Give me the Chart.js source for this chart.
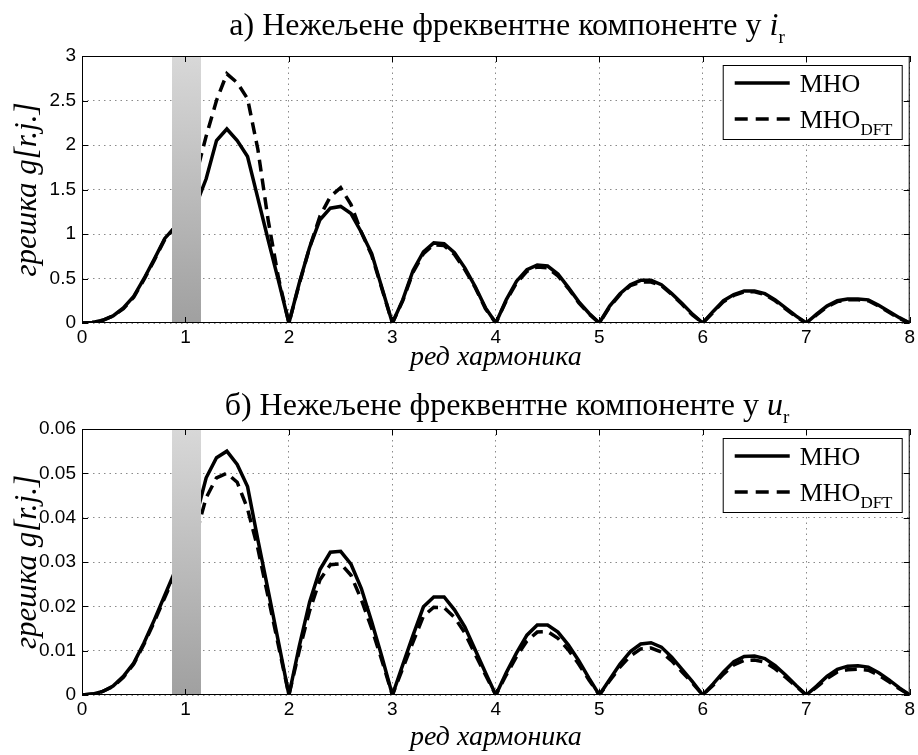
<!DOCTYPE html>
<html>
<head>
<meta charset="utf-8">
<script src="https://cdn.jsdelivr.net/npm/chart.js@4.4.0/dist/chart.umd.min.js"></script>
<style>
	body { margin: 0; background: #fff; }
	#wrap { position: relative; width: 918px; height: 755px; }
	canvas { position: absolute; left: 0; }
</style>
</head>
<body>
<div id="wrap">
	<canvas id="chartI" width="918" height="378" style="top:0; width:918px; height:378px"></canvas>
	<canvas id="chartU" width="918" height="377" style="top:378px; width:918px; height:377px"></canvas>
</div>
<script>

// harmonic order, step 0.1
var harmonicOrder = [
	0, 0.1, 0.2, 0.3, 0.4, 0.5, 0.6, 0.7, 0.8, 0.9,
	1, 1.1, 1.2, 1.3, 1.4, 1.5, 1.6, 1.7, 1.8, 1.9,
	2, 2.1, 2.2, 2.3, 2.4, 2.5, 2.6, 2.7, 2.8, 2.9,
	3, 3.1, 3.2, 3.3, 3.4, 3.5, 3.6, 3.7, 3.8, 3.9,
	4, 4.1, 4.2, 4.3, 4.4, 4.5, 4.6, 4.7, 4.8, 4.9,
	5, 5.1, 5.2, 5.3, 5.4, 5.5, 5.6, 5.7, 5.8, 5.9,
	6, 6.1, 6.2, 6.3, 6.4, 6.5, 6.6, 6.7, 6.8, 6.9,
	7, 7.1, 7.2, 7.3, 7.4, 7.5, 7.6, 7.7, 7.8, 7.9,
	8
];

// x axis labels
var harmonicTicks = [0, 1, 2, 3, 4, 5, 6, 7, 8];

// error in i_r
var mhoI = [
	0, 0.005, 0.03, 0.08, 0.17, 0.30, 0.50, 0.72, 0.95, 1.08,
	1.18, 1.32, 1.62, 2.05, 2.18, 2.05, 1.87, 1.40, 0.93, 0.47,
	0, 0.45, 0.85, 1.16, 1.29, 1.31, 1.23, 1.02, 0.78, 0.39,
	0, 0.26, 0.59, 0.80, 0.90, 0.89, 0.79, 0.62, 0.41, 0.17,
	0, 0.26, 0.47, 0.60, 0.65, 0.64, 0.55, 0.40, 0.24, 0.11,
	0, 0.19, 0.33, 0.43, 0.48, 0.48, 0.43, 0.33, 0.22, 0.10,
	0, 0.13, 0.25, 0.32, 0.36, 0.36, 0.33, 0.26, 0.17, 0.08,
	0, 0.10, 0.19, 0.25, 0.27, 0.27, 0.26, 0.20, 0.13, 0.06,
	0
];
var mhoDftI = [
	0, 0.005, 0.03, 0.08, 0.16, 0.29, 0.49, 0.71, 0.94, 1.08,
	1.30, 1.65, 2.10, 2.50, 2.80, 2.70, 2.52, 1.95, 1.15, 0.50,
	0, 0.44, 0.85, 1.20, 1.42, 1.52, 1.33, 1.02, 0.76, 0.38,
	0, 0.25, 0.57, 0.78, 0.88, 0.87, 0.77, 0.60, 0.40, 0.16,
	0, 0.25, 0.45, 0.58, 0.63, 0.62, 0.53, 0.39, 0.23, 0.10,
	0, 0.18, 0.32, 0.42, 0.46, 0.46, 0.42, 0.32, 0.21, 0.09,
	0, 0.12, 0.24, 0.31, 0.35, 0.35, 0.32, 0.25, 0.16, 0.07,
	0, 0.09, 0.18, 0.24, 0.26, 0.26, 0.25, 0.19, 0.12, 0.05,
	0
];

// error in u_r
var mhoU = [
	0, 0.0002, 0.0008, 0.002, 0.0042, 0.0072, 0.0118, 0.017, 0.0225, 0.028,
	0.034, 0.040, 0.049, 0.0535, 0.055, 0.052, 0.047, 0.035, 0.0235, 0.0118,
	0, 0.011, 0.021, 0.0283, 0.0322, 0.0324, 0.0295, 0.024, 0.0165, 0.0085,
	0, 0.0068, 0.0135, 0.0199, 0.0221, 0.0221, 0.0192, 0.0154, 0.0102, 0.005,
	0, 0.005, 0.0095, 0.0135, 0.0158, 0.0158, 0.0142, 0.0113, 0.0078, 0.0038,
	0, 0.0035, 0.007, 0.0098, 0.0115, 0.0118, 0.0108, 0.0085, 0.0058, 0.003,
	0, 0.0025, 0.0052, 0.0075, 0.0087, 0.0088, 0.0082, 0.0066, 0.0045, 0.0022,
	0, 0.002, 0.0042, 0.0058, 0.0065, 0.0066, 0.0063, 0.005, 0.0034, 0.0016,
	0
];
var mhoDftU = [
	0, 0.0002, 0.0008, 0.0019, 0.004, 0.007, 0.0115, 0.0166, 0.022, 0.0272,
	0.031, 0.036, 0.0445, 0.049, 0.050, 0.048, 0.042, 0.033, 0.022, 0.011,
	0, 0.010, 0.019, 0.026, 0.0294, 0.0296, 0.027, 0.0215, 0.015, 0.0077,
	0, 0.006, 0.012, 0.0178, 0.0198, 0.0197, 0.0175, 0.014, 0.0092, 0.0045,
	0, 0.0045, 0.0087, 0.0122, 0.0142, 0.0143, 0.0128, 0.0102, 0.007, 0.0034,
	0, 0.0032, 0.0063, 0.0088, 0.0104, 0.0106, 0.0097, 0.0077, 0.0052, 0.0027,
	0, 0.0022, 0.0047, 0.0068, 0.0078, 0.0079, 0.0074, 0.0059, 0.004, 0.002,
	0, 0.0018, 0.0037, 0.0052, 0.0057, 0.0058, 0.0056, 0.0045, 0.003, 0.0014,
	0
];

// shaded region around the fundamental
var bandFrom = 0.87;
var bandTo = 1.15;

var serif = '"Liberation Serif", "Times New Roman", serif';
var sans = '"Liberation Sans", Arial, sans-serif';

function points(values){
	return harmonicOrder.map(function(h, i){ return {x: h, y: values[i]}; });
}

function seg(ctx, x0, y0, x1, y1){
	ctx.beginPath();
	ctx.moveTo(x0, y0);
	ctx.lineTo(x1, y1);
	ctx.stroke();
}

// draws a line of text made of runs with different fonts, centred on cx
function drawRuns(ctx, runs, cx, baseline){
	var total = 0;
	runs.forEach(function(r){
		ctx.font = r.font;
		r.w = ctx.measureText(r.text).width;
		total += r.w;
	});
	var x = cx - total / 2;
	ctx.textAlign = 'left';
	ctx.textBaseline = 'alphabetic';
	runs.forEach(function(r){
		ctx.font = r.font;
		ctx.fillText(r.text, x, baseline + (r.dy || 0));
		x += r.w;
	});
}

var decor = {
	id: 'decor',
	afterDatasetsDraw: function(chart, args, opts){
		var ctx = chart.ctx, a = chart.chartArea;
		var xs = chart.scales.x, ys = chart.scales.y;
		ctx.save();

		// grey band
		var b0 = xs.getPixelForValue(bandFrom), b1 = xs.getPixelForValue(bandTo);
		var g = ctx.createLinearGradient(0, a.top, 0, a.bottom);
		g.addColorStop(0, '#d8d8d8');
		g.addColorStop(1, '#a0a0a0');
		ctx.fillStyle = g;
		ctx.fillRect(b0, a.top, b1 - b0, a.bottom - a.top);

		// box and inward ticks
		ctx.strokeStyle = '#000';
		ctx.lineWidth = 1;
		ctx.setLineDash([]);
		ctx.strokeRect(a.left + 0.5, a.top + 0.5, a.right - a.left - 1, a.bottom - a.top - 1);
		xs.ticks.forEach(function(t){
			var px = Math.round(xs.getPixelForValue(t.value)) + 0.5;
			seg(ctx, px, a.bottom, px, a.bottom - 6);
			seg(ctx, px, a.top, px, a.top + 6);
		});
		ys.ticks.forEach(function(t){
			var py = Math.round(ys.getPixelForValue(t.value)) + 0.5;
			seg(ctx, a.left, py, a.left + 6, py);
			seg(ctx, a.right, py, a.right - 6, py);
		});

		// legend
		var lx = a.right - 187, ly = a.top + 9, lw = 179, lh = 74;
		ctx.fillStyle = '#fff';
		ctx.fillRect(lx, ly, lw, lh);
		ctx.strokeRect(lx + 0.5, ly + 0.5, lw, lh);
		ctx.lineWidth = 3.5;
		seg(ctx, lx + 12, ly + 18, lx + 67, ly + 18);
		ctx.setLineDash([13, 8]);
		seg(ctx, lx + 12, ly + 54, lx + 67, ly + 54);
		ctx.setLineDash([]);
		ctx.fillStyle = '#000';
		ctx.textAlign = 'left';
		ctx.textBaseline = 'alphabetic';
		ctx.font = '26px ' + serif;
		ctx.fillText('МНО', lx + 77, ly + 27);
		ctx.fillText('МНО', lx + 77, ly + 63);
		var w = ctx.measureText('МНО').width;
		ctx.font = '17px ' + serif;
		ctx.fillText('DFT', lx + 77 + w, ly + 70);

		// title
		drawRuns(ctx, [
			{text: opts.title, font: '32px ' + serif},
			{text: opts.symbol, font: 'italic 32px ' + serif},
			{text: 'r', font: '19px ' + serif, dy: 8}
		], 507, opts.baseline);

		ctx.restore();
	}
};

function makeChart(id, solid, dashed, yMax, yStep, decimals, opts){
	var canvasHeight = document.getElementById(id).height;
	return new Chart(document.getElementById(id), {
		type: 'line',
		data: {
			datasets: [
				{ label: 'МНО', data: points(solid), borderColor: '#000', borderWidth: 3.5, pointRadius: 0, tension: 0, fill: false },
				{ label: 'МНО DFT', data: points(dashed), borderColor: '#000', borderWidth: 3.5, borderDash: [12, 7], pointRadius: 0, tension: 0, fill: false }
			]
		},
		options: {
			responsive: false,
			animation: false,
			layout: { padding: { left: 0, right: 8, top: opts.top, bottom: 0 } },
			plugins: {
				legend: { display: false },
				tooltip: { enabled: false },
				decor: opts
			},
			scales: {
				x: {
					type: 'linear',
					min: 0,
					max: 8,
					afterBuildTicks: function(s){ s.ticks = harmonicTicks.map(function(v){ return {value: v}; }); },
					ticks: { autoSkip: false, color: '#000', padding: 3, font: { family: sans, size: 19 } },
					grid: { color: '#8a8a8a', lineWidth: 1, drawTicks: false },
					border: { display: false, dash: [1.5, 4] },
					title: { display: true, text: 'ред хармоника', color: '#000', padding: { top: 0, bottom: opts.xTitlePad }, font: { family: serif, style: 'italic', size: 28 } },
					afterFit: function(s){ s.height = canvasHeight - opts.bottom; }
				},
				y: {
					min: 0,
					max: yMax,
					ticks: {
						stepSize: yStep, color: '#000', padding: 6, font: { family: sans, size: 19 },
						callback: function(v){ return +v.toFixed(decimals); }
					},
					grid: { color: '#8a8a8a', lineWidth: 1, drawTicks: false },
					border: { display: false, dash: [1.5, 4] },
					title: { display: true, text: 'грешка g[r.j.]', color: '#000', padding: { top: 9, bottom: 0 }, font: { family: serif, style: 'italic', size: 31 } },
					afterFit: function(s){ s.width = 82; }
				}
			}
		},
		plugins: [decor]
	});
}

makeChart('chartI', mhoI, mhoDftI, 3, 0.5, 1, {
	top: 56, bottom: 323, xTitlePad: 4, baseline: 35,
	title: 'а) Нежељене фреквентне компоненте у ', symbol: 'i'
});

makeChart('chartU', mhoU, mhoDftU, 0.06, 0.01, 2, {
	top: 51, bottom: 317, xTitlePad: 1, baseline: 37,
	title: 'б) Нежељене фреквентне компоненте у ', symbol: 'u'
});

</script>
</body>
</html>
